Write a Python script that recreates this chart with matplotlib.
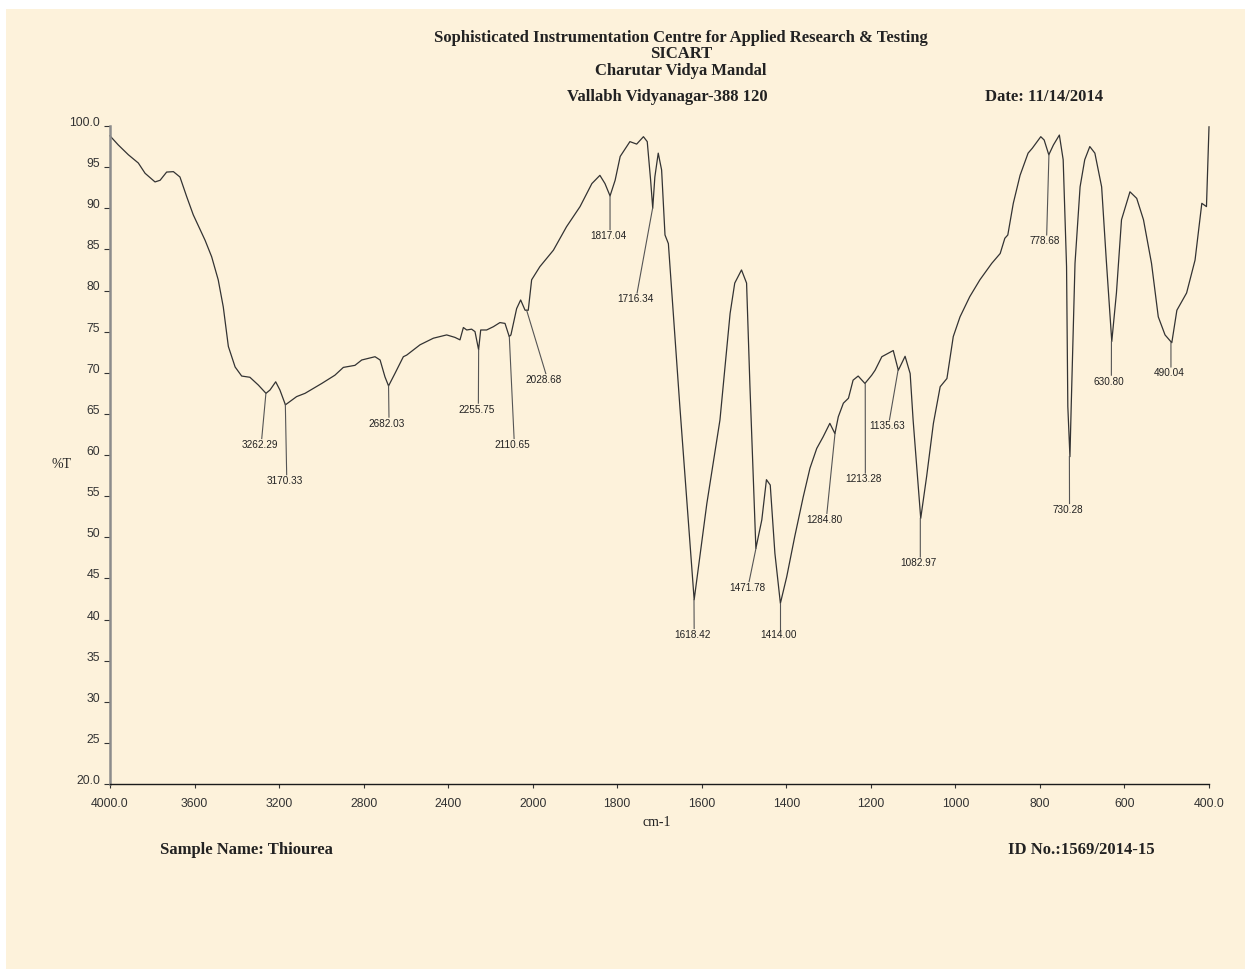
import numpy as np
import matplotlib
matplotlib.use("Agg")
import matplotlib.pyplot as plt
from matplotlib.patches import Rectangle

# FTIR spectrum of thiourea
wavenumber = [4000, 3961, 3913, 3866, 3834, 3787, 3763, 3732, 3700, 3669, 3637, 3606,
              3550, 3519, 3488, 3464, 3440, 3408, 3377, 3338, 3298, 3262, 3243, 3216,
              3196, 3170, 3117, 3077, 2998, 2936, 2896, 2841, 2809, 2746, 2722, 2699,
              2682, 2652, 2612, 2596, 2533, 2470, 2407, 2368, 2344, 2328, 2312, 2289,
              2273, 2256, 2246, 2218, 2186, 2155, 2131, 2111, 2103, 2076, 2057, 2036,
              2021, 2005, 1983, 1951, 1920, 1888, 1860, 1841, 1829, 1817, 1805, 1793,
              1770, 1754, 1738, 1729, 1721, 1716, 1711, 1703, 1695, 1687, 1679, 1652,
              1618, 1588, 1557, 1533, 1522, 1506, 1494, 1486, 1472, 1458, 1447, 1438,
              1427, 1414, 1399, 1380, 1360, 1344, 1328, 1313, 1297, 1285, 1277, 1265,
              1253, 1242, 1230, 1214, 1198, 1190, 1174, 1147, 1135, 1119, 1107, 1100,
              1082, 1068, 1052, 1036, 1020, 1005, 989, 966, 942, 914, 894, 883,
              876, 863, 847, 828, 818, 798, 790, 779, 768, 754, 745, 737,
              734, 729, 726, 717, 705, 694, 682, 670, 654, 643, 630, 619,
              607, 587, 571, 555, 536, 520, 504, 488, 476, 453, 433, 417,
              406, 400]
transmittance = [98.8, 97.7, 96.5, 95.5, 94.25, 93.2, 93.4, 94.4, 94.45, 93.8, 91.4, 89.2,
                 86.1, 84.1, 81.3, 78.0, 73.2, 70.7, 69.6, 69.45, 68.5, 67.5, 67.9, 68.9,
                 67.9, 66.1, 67.1, 67.5, 68.7, 69.7, 70.65, 70.9, 71.55, 71.95, 71.55, 69.5,
                 68.4, 69.9, 71.95, 72.15, 73.4, 74.2, 74.6, 74.3, 74.0, 75.5, 75.2, 75.3,
                 75.0, 72.8, 75.2, 75.2, 75.6, 76.1, 76.0, 74.4, 74.6, 77.8, 78.85, 77.6,
                 77.6, 81.3, 82.9, 84.9, 87.75, 90.2, 93.0, 94.0, 93.0, 91.5, 93.4, 96.3,
                 98.1, 97.8, 98.7, 98.1, 93.4, 90.0, 93.8, 96.7, 94.65, 86.75, 85.7, 66.0,
                 42.4, 54.1, 64.25, 77.2, 80.9, 82.5, 80.9, 68.3, 48.65, 52.1, 57.0, 56.35,
                 48.05, 41.97, 45.2, 50.1, 54.9, 58.4, 60.8, 62.2, 63.85, 62.6, 64.65, 66.3,
                 66.9, 69.1, 69.6, 68.7, 69.7, 70.3, 71.95, 72.7, 70.3, 72.0, 69.9, 64.25,
                 52.3, 57.4, 63.85, 68.3, 69.3, 74.4, 76.8, 79.25, 81.3, 83.3, 84.5, 86.35,
                 86.75, 90.6, 94.0, 96.7, 97.3, 98.7, 98.3, 96.5, 97.7, 98.9, 95.9, 82.9,
                 65.9, 59.8, 65.9, 83.3, 92.6, 95.9, 97.5, 96.7, 92.6, 83.7, 73.8, 79.7,
                 88.6, 92.0, 91.2, 88.6, 83.3, 76.8, 74.6, 73.65, 77.6, 79.7, 83.7, 90.6,
                 90.2, 99.9]

# peak picks: value, %T at the peak, end of the leader line (wn, %T)
peak_labels = ["3262.29", "3170.33", "2682.03", "2255.75", "2110.65", "2028.68", "1817.04",
               "1716.34", "1618.42", "1471.78", "1414.00", "1284.80", "1213.28", "1135.63",
               "1082.97", "778.68", "730.28", "630.80", "490.04"]
peak_wn = [3262.29, 3170.33, 2682.03, 2255.75, 2110.65, 2028.68, 1817.04, 1716.34, 1618.42,
           1471.78, 1414.00, 1284.80, 1213.28, 1135.63, 1082.97, 778.68, 730.28, 630.80, 490.04]
peak_T = [67.5, 66.1, 68.4, 72.8, 74.4, 77.6, 91.5, 90.0, 42.4, 48.65, 41.97, 62.6, 68.7,
          70.3, 52.3, 96.5, 59.8, 73.8, 73.65]
leader_wn = [3282, 3164, 2680, 2257, 2088, 1969, 1817, 1753, 1618, 1488, 1414, 1304, 1213,
             1156, 1083, 784, 730, 631, 490]
leader_T = [62.0, 57.6, 64.6, 66.3, 62.0, 69.9, 87.4, 79.7, 38.9, 44.6, 38.9, 52.9, 57.8,
            64.25, 47.6, 86.75, 54.1, 69.7, 70.7]

xticks = [4000, 3600, 3200, 2800, 2400, 2000, 1800, 1600, 1400, 1200, 1000, 800, 600, 400]
xtick_labels = ["4000.0", "3600", "3200", "2800", "2400", "2000", "1800", "1600", "1400",
                "1200", "1000", "800", "600", "400.0"]
yticks = list(range(20, 101, 5))
ytick_labels = ["20.0"] + [str(v) for v in yticks[1:-1]] + ["100.0"]

CREAM = "#fdf2db"
INK = "#333333"
SERIF = ["Liberation Serif", "DejaVu Serif"]
SANS = ["Liberation Sans", "DejaVu Sans"]


# instrument scale: 400 cm-1 per division above 2000, 200 cm-1 per division below
def fwd(w):
    w = np.asarray(w, dtype=float)
    return np.where(w <= 2000, (w - 400) / 200.0, 8 + (w - 2000) / 400.0)


def inv(g):
    g = np.asarray(g, dtype=float)
    return np.where(g <= 8, 400 + 200.0 * g, 2000 + 400.0 * (g - 8))


fig = plt.figure(figsize=(12.45, 9.69), dpi=100, facecolor="white")
fig.patches.append(Rectangle((6 / 1245, 0), 1, 1 - 9 / 969, transform=fig.transFigure,
                             facecolor=CREAM, edgecolor="none", zorder=-10))

ax = fig.add_axes([110 / 1245, 1 - 784 / 969, 1099 / 1245, 658 / 969])
ax.set_facecolor("none")
ax.set_xscale("function", functions=(fwd, inv))
ax.set_xlim(4000, 400)
ax.set_ylim(20, 100)

ax.plot(wavenumber, transmittance, color=INK, linewidth=0.9, clip_on=False)

for lab, w, t, lw_, lt in zip(peak_labels, peak_wn, peak_T, leader_wn, leader_T):
    ax.plot([w, lw_], [t, lt], color="#555555", linewidth=0.8)
    ax.annotate(lab, xy=(lw_, lt), xytext=(-1.5, -1), textcoords="offset points",
                ha="center", va="top", fontsize=7.2, family=SANS, color="#222222")

# axes look of the printout
for side in ("top", "right"):
    ax.spines[side].set_visible(False)
ax.spines["left"].set_color("#8c8c8c")
ax.spines["left"].set_linewidth(1.8)
ax.spines["bottom"].set_color("#1a1a1a")
ax.spines["bottom"].set_linewidth(1.0)

ax.set_xticks(xticks)
ax.set_xticklabels(xtick_labels, family=SANS, fontsize=8.8, color="#333333")
ax.set_yticks(yticks)
ax.set_yticklabels(ytick_labels, family=SANS, fontsize=8.8, color="#333333")
ax.minorticks_off()
ax.tick_params(axis="x", length=3, width=0.8, color="#333333", pad=7)
ax.tick_params(axis="y", length=4, width=0.8, color="#333333", pad=3)
for lbl in ax.get_yticklabels():
    lbl.set_va("baseline")

# header and footer texts
fig.text(681 / 1245, 1 - 38 / 969, "Sophisticated Instrumentation Centre for Applied Research & Testing",
         ha="center", va="center", fontsize=12, family=SERIF, fontweight="bold", color="#222222")
fig.text(681 / 1245, 1 - 54 / 969, "SICART", ha="center", va="center", fontsize=12,
         family=SERIF, fontweight="bold", color="#222222")
fig.text(681 / 1245, 1 - 71 / 969, "Charutar Vidya Mandal", ha="center", va="center",
         fontsize=12, family=SERIF, fontweight="bold", color="#222222")
fig.text(667 / 1245, 1 - 97 / 969, "Vallabh Vidyanagar-388 120", ha="center", va="center",
         fontsize=12, family=SERIF, fontweight="bold", color="#222222")
fig.text(985 / 1245, 1 - 97 / 969, "Date: 11/14/2014", ha="left", va="center",
         fontsize=12, family=SERIF, fontweight="bold", color="#222222")

fig.text(62 / 1245, 1 - 464 / 969, "%T", ha="center", va="center", fontsize=10,
         family=SERIF, color="#222222")
fig.text(657 / 1245, 1 - 822 / 969, "cm-1", ha="center", va="center", fontsize=10,
         family=SERIF, color="#222222")
fig.text(160 / 1245, 1 - 850 / 969, "Sample Name: Thiourea", ha="left", va="center",
         fontsize=12, family=SERIF, fontweight="bold", color="#222222")
fig.text(1008 / 1245, 1 - 850 / 969, "ID No.:1569/2014-15", ha="left", va="center",
         fontsize=12, family=SERIF, fontweight="bold", color="#222222")

fig.savefig("out.png", dpi=100, facecolor="white")
